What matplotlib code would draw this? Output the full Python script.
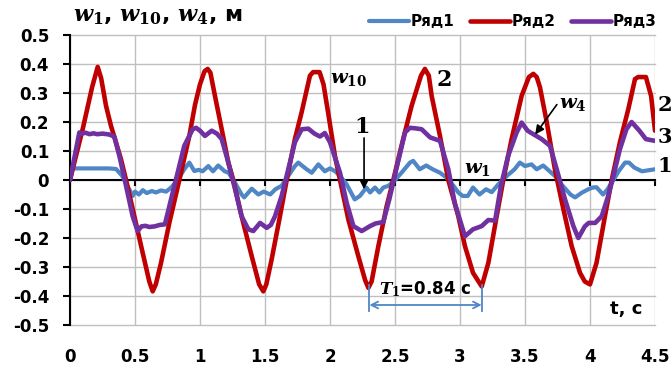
import matplotlib
matplotlib.use("Agg")
import matplotlib.pyplot as plt
from matplotlib.transforms import blended_transform_factory

plt.rcParams['font.family'] = ['DejaVu Sans']
plt.rcParams['font.weight'] = 'bold'
plt.rcParams['mathtext.fontset'] = 'custom'
plt.rcParams['mathtext.it'] = 'DejaVu Serif:italic:bold'
plt.rcParams['mathtext.rm'] = 'DejaVu Serif:bold'
plt.rcParams['mathtext.bf'] = 'DejaVu Serif:bold'

# ---- data ----
t1 = [0.00, 0.02, 0.10, 0.20, 0.30, 0.354, 0.40, 0.456, 0.482, 0.50, 0.53, 0.56, 0.59, 0.63, 0.66,
      0.70, 0.74, 0.78, 0.828, 0.879, 0.918, 0.956, 0.99, 1.02, 1.064, 1.10, 1.14, 1.19, 1.22, 1.27,
      1.32, 1.34, 1.398, 1.449, 1.49, 1.54, 1.58, 1.628, 1.679, 1.73, 1.756, 1.82, 1.86, 1.91, 1.96,
      2.00, 2.04, 2.077, 2.128, 2.19, 2.23, 2.28, 2.308, 2.346, 2.38, 2.41, 2.45, 2.50, 2.55, 2.615,
      2.64, 2.69, 2.74, 2.79, 2.846, 2.90, 2.95, 2.987, 3.02, 3.06, 3.10, 3.15, 3.20, 3.244, 3.295,
      3.36, 3.42, 3.46, 3.50, 3.55, 3.59, 3.64, 3.69, 3.73, 3.78, 3.85, 3.885, 3.94, 3.987, 4.02,
      4.05, 4.10, 4.13, 4.18, 4.22, 4.27, 4.30, 4.34, 4.40, 4.50]
w1 = [0.00, 0.04, 0.04, 0.04, 0.04, 0.038, 0.015, -0.032, -0.055, -0.04, -0.05, -0.035, -0.045, -0.038, -0.043,
      -0.036, -0.04, -0.025, 0.00, 0.037, 0.06, 0.031, 0.035, 0.03, 0.048, 0.03, 0.05, 0.03, 0.025, -0.01,
      -0.05, -0.06, -0.03, -0.05, -0.04, -0.05, -0.032, -0.02, 0.014, 0.048, 0.06, 0.037, 0.025, 0.054, 0.03,
      0.04, 0.03, 0.014, -0.015, -0.067, -0.055, -0.026, -0.043, -0.026, -0.043, -0.026, -0.02, 0.00, 0.025, 0.06,
      0.066, 0.037, 0.05, 0.037, 0.025, 0.007, -0.02, -0.043, -0.055, -0.055, -0.026, -0.05, -0.032, -0.042, -0.015,
      0.014, 0.037, 0.06, 0.048, 0.054, 0.037, 0.05, 0.03, 0.014, -0.015, -0.05, -0.06, -0.043, -0.032, -0.026,
      -0.025, -0.05, -0.035, 0.00, 0.03, 0.06, 0.06, 0.043, 0.03, 0.037]

t2 = [0.00, 0.10, 0.17, 0.213, 0.24, 0.277, 0.315, 0.392, 0.431, 0.495, 0.559, 0.61, 0.636, 0.66, 0.70,
      0.764, 0.841, 0.918, 0.962, 1.00, 1.035, 1.059, 1.08, 1.115, 1.167, 1.218, 1.256, 1.32, 1.398, 1.455,
      1.487, 1.51, 1.551, 1.615, 1.667, 1.73, 1.782, 1.846, 1.87, 1.92, 1.95, 1.99, 2.038, 2.077, 2.141,
      2.218, 2.27, 2.295, 2.32, 2.372, 2.436, 2.487, 2.55, 2.628, 2.70, 2.73, 2.76, 2.782, 2.846, 2.91,
      2.987, 3.038, 3.10, 3.167, 3.218, 3.282, 3.333, 3.397, 3.474, 3.53, 3.564, 3.59, 3.615, 3.667, 3.73,
      3.795, 3.859, 3.923, 3.96, 4.00, 4.05, 4.115, 4.167, 4.23, 4.295, 4.346, 4.37, 4.43, 4.47, 4.50]
w10 = [0.00, 0.18, 0.32, 0.39, 0.35, 0.256, 0.187, 0.072, 0.00, -0.125, -0.251, -0.35, -0.384, -0.36, -0.286,
       -0.148, 0.00, 0.152, 0.26, 0.33, 0.375, 0.383, 0.37, 0.29, 0.175, 0.06, 0.00, -0.125, -0.263, -0.36,
       -0.384, -0.36, -0.274, -0.125, 0.00, 0.141, 0.234, 0.36, 0.372, 0.372, 0.33, 0.22, 0.083, 0.00, -0.136,
       -0.263, -0.345, -0.372, -0.35, -0.228, -0.09, 0.00, 0.118, 0.256, 0.36, 0.383, 0.36, 0.29, 0.152, 0.00,
       -0.125, -0.228, -0.32, -0.367, -0.286, -0.125, 0.00, 0.141, 0.29, 0.355, 0.366, 0.355, 0.32, 0.20, 0.037,
       -0.10, -0.228, -0.32, -0.35, -0.36, -0.286, -0.125, 0.00, 0.13, 0.245, 0.348, 0.355, 0.355, 0.29, 0.17]

t3 = [0.00, 0.072, 0.09, 0.12, 0.15, 0.18, 0.21, 0.25, 0.30, 0.341, 0.38, 0.431, 0.482, 0.52, 0.55,
      0.58, 0.61, 0.65, 0.69, 0.73, 0.777, 0.828, 0.879, 0.944, 0.97, 1.00, 1.038, 1.09, 1.13, 1.167,
      1.218, 1.27, 1.32, 1.372, 1.41, 1.462, 1.513, 1.545, 1.577, 1.628, 1.679, 1.73, 1.782, 1.833, 1.88,
      1.923, 1.96, 2.00, 2.077, 2.128, 2.18, 2.244, 2.308, 2.35, 2.41, 2.456, 2.51, 2.577, 2.615, 2.66,
      2.705, 2.77, 2.846, 2.91, 2.96, 3.038, 3.10, 3.167, 3.218, 3.27, 3.315, 3.37, 3.436, 3.474, 3.52,
      3.564, 3.628, 3.692, 3.744, 3.808, 3.872, 3.91, 3.96, 3.99, 4.04, 4.09, 4.14, 4.18, 4.23, 4.28,
      4.32, 4.38, 4.43, 4.50]
w4 = [0.00, 0.164, 0.16, 0.163, 0.158, 0.161, 0.158, 0.16, 0.157, 0.15, 0.083, -0.02, -0.125, -0.176, -0.16,
      -0.158, -0.162, -0.16, -0.155, -0.153, -0.067, 0.025, 0.118, 0.175, 0.18, 0.17, 0.152, 0.17, 0.16, 0.141,
      0.06, -0.032, -0.125, -0.17, -0.176, -0.148, -0.165, -0.155, -0.125, -0.055, 0.037, 0.13, 0.175, 0.177, 0.16,
      0.15, 0.162, 0.13, 0.025, -0.078, -0.159, -0.176, -0.159, -0.15, -0.145, -0.067, 0.037, 0.164, 0.18, 0.178,
      0.175, 0.147, 0.135, 0.037, -0.08, -0.194, -0.17, -0.159, -0.138, -0.14, -0.02, 0.083, 0.164, 0.198, 0.17,
      0.158, 0.141, 0.118, 0.037, -0.067, -0.159, -0.20, -0.16, -0.148, -0.148, -0.125, -0.055, 0.014, 0.106, 0.175,
      0.20, 0.17, 0.141, 0.135]

series_names = ["Ряд1", "Ряд2", "Ряд3"]
colors = ["#4F86C6", "#C00000", "#7030A0"]

x_ticks = [0, 0.5, 1, 1.5, 2, 2.5, 3, 3.5, 4, 4.5]
x_tick_labels = ["0", "0.5", "1", "1.5", "2", "2.5", "3", "3.5", "4", "4.5"]
y_ticks = [0.5, 0.4, 0.3, 0.2, 0.1, 0, -0.1, -0.2, -0.3, -0.4, -0.5]
y_tick_labels = ["0.5", "0.4", "0.3", "0.2", "0.1", "0", "-0.1", "-0.2", "-0.3", "-0.4", "-0.5"]

period_start, period_end = 2.303, 3.167

# ---- figure ----
fig = plt.figure(figsize=(6.72, 3.70), dpi=100)
ax = fig.add_axes([70/672, 45/370, 585/672, 290/370])

ax.plot(t1, w1, color=colors[0], lw=3.0, label=series_names[0], solid_joinstyle='round', solid_capstyle='round', zorder=3)
ax.plot(t2, w10, color=colors[1], lw=3.3, label=series_names[1], solid_joinstyle='round', solid_capstyle='round', zorder=4)
ax.plot(t3, w4, color=colors[2], lw=3.3, label=series_names[2], solid_joinstyle='round', solid_capstyle='round', zorder=5)

ax.set_xlim(0, 4.5)
ax.set_ylim(-0.5, 0.5)
ax.set_yticks(y_ticks)
ax.set_yticklabels(y_tick_labels, fontsize=12, fontweight='bold')
ax.set_xticks(x_ticks)
ax.set_xticklabels([])

ax.grid(True, color='#BFBFBF', lw=1.0, zorder=0)
ax.set_axisbelow(True)
for gl in ax.get_xgridlines() + ax.get_ygridlines():
    gl.set_clip_on(False)

for s in ['top', 'right']:
    ax.spines[s].set_visible(False)
ax.spines['left'].set_linewidth(1.5)
ax.spines['bottom'].set_position(('data', 0))
ax.spines['bottom'].set_linewidth(1.5)
ax.spines['bottom'].set_zorder(2)
ax.tick_params(axis='y', direction='out', length=5, width=1.5, pad=10)
ax.tick_params(axis='x', direction='out', length=4.5, width=1.5)

trans = blended_transform_factory(ax.transData, ax.transAxes)
for xv, lab in zip(x_ticks, x_tick_labels):
    ax.text(xv, -0.112, lab, transform=trans, ha='center', va='center', fontsize=12, fontweight='bold')

# legend
leg = ax.legend(loc='center right', bbox_to_anchor=(657/672, 1 - 22/370), bbox_transform=fig.transFigure,
                ncol=3, frameon=False, handlelength=2.6, handletextpad=0.15,
                columnspacing=1.0, borderpad=0, borderaxespad=0, prop={'weight': 'bold', 'size': 11})

# title
fig.text(73/672, 1 - 17/370, r"$w_1$, $w_{10}$, $w_4$, м", ha='left', va='center', fontsize=16, fontweight='bold')

# annotations
ax.text(2.0, 0.35, r"$w_{10}$", ha='left', va='center', fontsize=14)
ax.text(2.877, 0.345, "2", ha='center', va='center', fontsize=16, family='DejaVu Serif', fontweight='bold')
ax.text(2.246, 0.182, "1", ha='center', va='center', fontsize=16, family='DejaVu Serif', fontweight='bold')
ax.annotate('', xy=(2.262, -0.032), xytext=(2.262, 0.145),
            arrowprops=dict(arrowstyle='-|>', color='black', lw=1.2, mutation_scale=13, shrinkA=0, shrinkB=0), zorder=6)
ax.text(3.03, 0.04, r"$w_1$", ha='left', va='center', fontsize=14)
ax.text(3.76, 0.265, r"$w_4$", ha='left', va='center', fontsize=14)
ax.annotate('', xy=(3.578, 0.157), xytext=(3.745, 0.26),
            arrowprops=dict(arrowstyle='-|>', color='black', lw=1.2, mutation_scale=13, shrinkA=0, shrinkB=0), zorder=6)
for lab, yv in zip(["2", "3", "1"], [0.26, 0.148, 0.05]):
    ax.text(4.52, yv, lab, ha='left', va='center', fontsize=15, family='DejaVu Serif',
            fontweight='bold', clip_on=False)

# period annotation
ax.plot([period_start, period_start], [-0.361, -0.453], color=colors[0], lw=1.3, zorder=6)
ax.plot([period_end, period_end], [-0.361, -0.453], color=colors[0], lw=1.3, zorder=6)
ax.annotate('', xy=(period_start, -0.431), xytext=(period_end, -0.431),
            arrowprops=dict(arrowstyle='<->', color=colors[0], lw=1.3, mutation_scale=12, shrinkA=0, shrinkB=0), zorder=6)
ax.text(2.375, -0.378, r"$T_1$=0.84 c", ha='left', va='center', fontsize=12, fontweight='bold', zorder=7)
ax.text(4.28, -0.446, "t, c", ha='center', va='center', fontsize=13, fontweight='bold')

fig.savefig("out.png", dpi=100)
